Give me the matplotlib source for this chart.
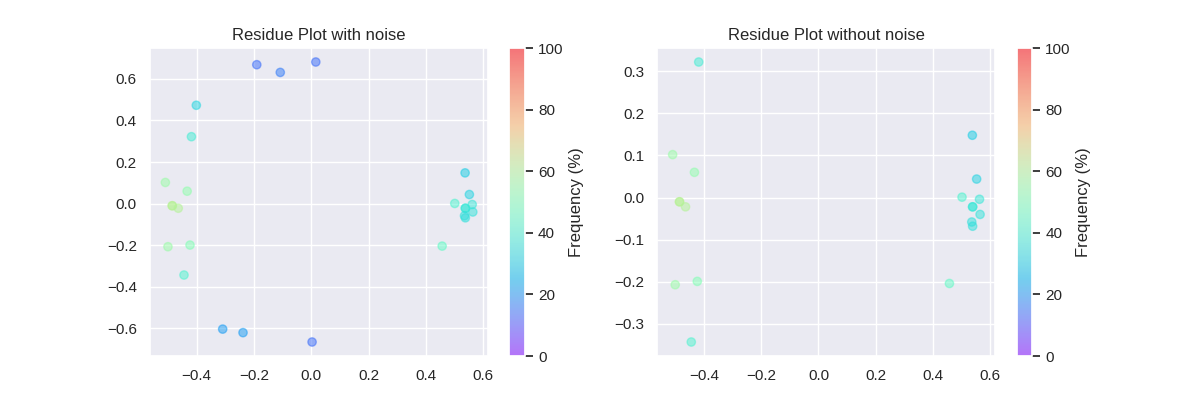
import matplotlib
matplotlib.use("Agg")
import matplotlib.pyplot as plt
import numpy as np
import seaborn as sns

# residues (x, y), frequency in %, and whether the point is a "noise" point
res_x = [-0.190, -0.108, 0.016, -0.401, -0.418, 0.537, -0.509, -0.433, 0.552,
         -0.485, -0.485, -0.464, 0.501, 0.562, 0.538, 0.538, 0.564, 0.535,
         0.538, 0.457, -0.500, -0.423, -0.444, -0.309, -0.238, 0.003]
res_y = [0.668, 0.631, 0.681, 0.473, 0.322, 0.148, 0.102, 0.060, 0.044,
         -0.010, -0.010, -0.022, 0.001, -0.004, -0.022, -0.022, -0.040, -0.058,
         -0.068, -0.204, -0.207, -0.199, -0.343, -0.603, -0.620, -0.665]
freq = [14, 16, 14, 32, 38, 30, 55, 53, 31,
        62, 60, 60, 40, 36, 36, 36, 35, 34,
        34, 44, 55, 50, 40, 21, 21, 14]
is_noise = [True, True, True, True, False, False, False, False, False,
            False, False, False, False, False, False, False, False, False,
            False, False, False, False, False, True, True, True]

sns.set_theme()
plt.rcParams["font.family"] = ["Liberation Sans", "DejaVu Sans"]

x = np.array(res_x)
y = np.array(res_y)
f = np.array(freq)
keep = ~np.array(is_noise)

fig, (ax1, ax2) = plt.subplots(1, 2, figsize=(12, 4))

sc1 = ax1.scatter(x, y, c=f, cmap="rainbow", vmin=0, vmax=100, alpha=0.5)
ax1.set_title("Residue Plot with noise")
fig.colorbar(sc1, ax=ax1, label="Frequency (%)")

sc2 = ax2.scatter(x[keep], y[keep], c=f[keep], cmap="rainbow", vmin=0, vmax=100, alpha=0.5)
ax2.set_title("Residue Plot without noise")
fig.colorbar(sc2, ax=ax2, label="Frequency (%)")

fig.savefig("out.png", dpi=100)
